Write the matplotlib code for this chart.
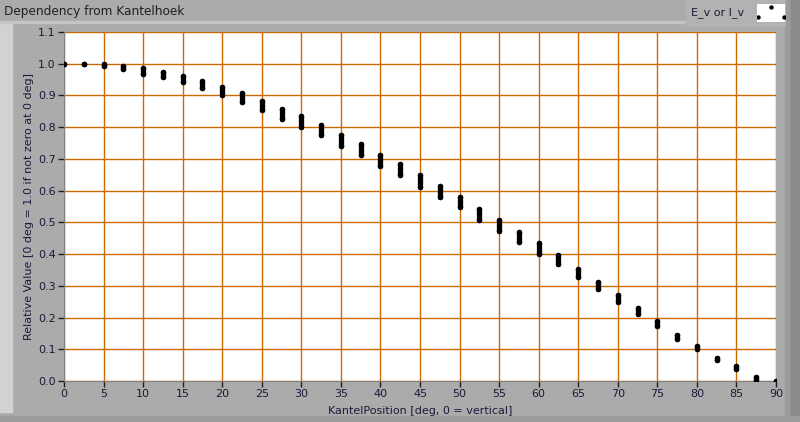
import matplotlib
matplotlib.use('Agg')
import matplotlib.pyplot as plt
from matplotlib.patches import Rectangle

# angle positions (deg) and the spread of relative values measured at each
angles = [0, 2.5, 5, 7.5, 10, 12.5, 15, 17.5, 20, 22.5, 25, 27.5, 30, 32.5,
          35, 37.5, 40, 42.5, 45, 47.5, 50, 52.5, 55, 57.5, 60, 62.5, 65,
          67.5, 70, 72.5, 75, 77.5, 80, 82.5, 85, 87.5, 90]
rel_max = [1.000, 1.000, 0.999, 0.994, 0.985, 0.975, 0.962, 0.947, 0.927,
           0.909, 0.884, 0.858, 0.836, 0.808, 0.776, 0.748, 0.712, 0.685,
           0.649, 0.615, 0.580, 0.543, 0.508, 0.470, 0.435, 0.397, 0.353,
           0.312, 0.271, 0.230, 0.189, 0.145, 0.110, 0.073, 0.047, 0.012,
           0.000]
rel_min = [1.000, 0.999, 0.993, 0.982, 0.969, 0.957, 0.941, 0.922, 0.903,
           0.880, 0.853, 0.827, 0.802, 0.774, 0.742, 0.711, 0.679, 0.648,
           0.613, 0.581, 0.547, 0.509, 0.474, 0.439, 0.401, 0.369, 0.328,
           0.290, 0.249, 0.211, 0.174, 0.133, 0.101, 0.066, 0.038, 0.004,
           0.000]
x_ticks = list(range(0, 95, 5))
y_ticks = [i / 10 for i in range(12)]

grid_col = '#cc6a00'
text_col = '#1a1a3a'


def deco(x, y, w, h, col):
    # background panel pieces, in pixels from the top-left corner
    fig.patches.append(Rectangle((x / 800, 1 - (y + h) / 422), w / 800, h / 422,
                                 transform=fig.transFigure, color=col, zorder=-1))


fig = plt.figure(figsize=(8, 4.22), dpi=100, facecolor='#ababab')

deco(0, 22, 12, 390, '#d2d2d2')
deco(0, 21, 785, 2, '#c4c4c4')
deco(785, 0, 6, 422, '#9a9a9a')
deco(791, 0, 9, 422, '#8a8a8a')
deco(0, 416, 800, 6, '#9c9c9c')
deco(686, 0, 99, 26, '#b2b2b2')

ax = fig.add_axes([64 / 800, 41 / 422, 712 / 800, 349 / 422])
ax.set_facecolor('white')

ax.vlines(angles, rel_min, rel_max, colors='black', linewidth=3.8,
          capstyle='round', zorder=3)
ax.scatter(angles, rel_min, s=16, color='black', zorder=3, linewidths=0)
ax.scatter(angles, rel_max, s=16, color='black', zorder=3, linewidths=0)

ax.set_xlim(0, 90)
ax.set_ylim(0, 1.1)
ax.set_xticks(x_ticks)
ax.set_yticks(y_ticks)
ax.set_yticklabels(['%.1f' % v for v in y_ticks])
ax.grid(True, color=grid_col, linewidth=1.0)
ax.set_axisbelow(True)
ax.tick_params(direction='out', length=4, width=1, colors='#202020',
               labelcolor=text_col, labelsize=8, pad=2)
for side in ['top', 'right']:
    ax.spines[side].set_visible(False)
for side in ['left', 'bottom']:
    ax.spines[side].set_color('#808080')

ax.set_xlabel('KantelPosition [deg, 0 = vertical]', fontsize=8, color=text_col,
              labelpad=5)
ax.set_ylabel('Relative Value [0 deg = 1.0 if not zero at 0 deg]', fontsize=8,
              color=text_col, labelpad=3)

fig.text(4 / 800, 1 - 12 / 422, 'Dependency from Kantelhoek', fontsize=8.7,
         color='#202020', va='center', ha='left')

# legend
fig.text(691 / 800, 1 - 13 / 422, 'E_v or I_v', fontsize=8, color=text_col,
         va='center', ha='left')
leg = fig.add_axes([757 / 800, 1 - 22 / 422, 28 / 800, 18 / 422], zorder=5)
leg.set_facecolor('white')
leg.set_xlim(0, 1)
leg.set_ylim(0, 1)
leg.scatter([0.5, 0.03, 0.97], [0.85, 0.3, 0.3], s=10, marker='o',
            color='black', linewidths=0)
leg.set_xticks([])
leg.set_yticks([])
for s in leg.spines.values():
    s.set_visible(False)

fig.savefig('out.png', dpi=100, facecolor=fig.get_facecolor())
